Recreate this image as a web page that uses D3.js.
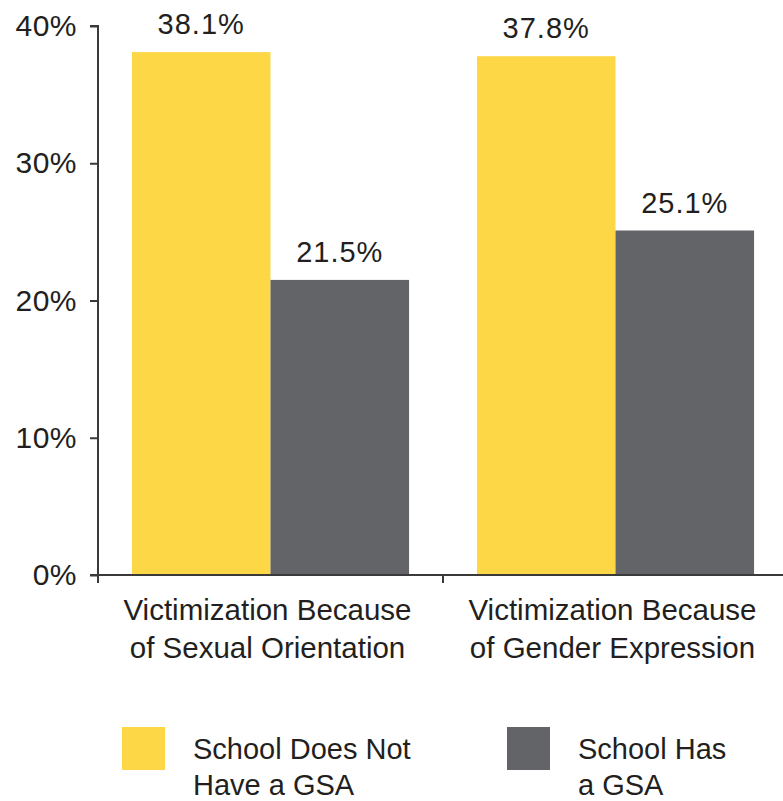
<!DOCTYPE html>
<html>
<head>
<meta charset="utf-8">
<script src="https://cdn.jsdelivr.net/npm/d3@7"></script>
<style>
  body { margin: 0; background: #fff; }
  svg { display: block; font-family: "Liberation Sans", Arial, sans-serif; }
</style>
</head>
<body>
<svg width="783" height="801"></svg>
<script>
// data
const categories = [
  ["Victimization Because", "of Sexual Orientation"],
  ["Victimization Because", "of Gender Expression"]
];
const seriesNames = ["School Does Not Have a GSA", "School Has a GSA"];
const legendLines = [["School Does Not", "Have a GSA"], ["School Has", "a GSA"]];
const noGsa = [38.1, 37.8];
const hasGsa = [21.5, 25.1];
const yTicks = [0, 10, 20, 30, 40];
const colors = ["#fdd745", "#636468"];

const svg = d3.select("svg");
const textColor = "#231f20";

const x0 = d3.scaleBand()
  .domain(d3.range(categories.length))
  .range([98, 788]);

const x1 = d3.scaleBand()
  .domain(seriesNames)
  .range([0, x0.bandwidth()])
  .paddingInner(0)
  .paddingOuter(0.245);

const y = d3.scaleLinear()
  .domain([0, 40])
  .range([575, 26]);

const rows = categories.map((c, i) => ({
  i,
  values: [
    { name: seriesNames[0], value: noGsa[i], color: colors[0] },
    { name: seriesNames[1], value: hasGsa[i], color: colors[1] }
  ]
}));

// bars
const groups = svg.append("g")
  .selectAll("g")
  .data(rows)
  .join("g")
  .attr("transform", d => `translate(${x0(d.i)},0)`);

groups.selectAll("rect")
  .data(d => d.values)
  .join("rect")
  .attr("x", d => x1(d.name))
  .attr("y", d => y(d.value))
  .attr("width", x1.bandwidth())
  .attr("height", d => y(0) - y(d.value))
  .attr("fill", d => d.color);

groups.selectAll("text.val")
  .data(d => d.values)
  .join("text")
  .attr("class", "val")
  .attr("x", d => x1(d.name) + x1.bandwidth() / 2)
  .attr("y", d => y(d.value) - 18)
  .attr("text-anchor", "middle")
  .attr("font-size", 29)
  .attr("letter-spacing", 1)
  .attr("fill", textColor)
  .text(d => d.value.toFixed(1) + "%");

// y axis
const yAxis = svg.append("g")
  .attr("transform", "translate(98,0)")
  .call(d3.axisLeft(y).tickValues(yTicks).tickSize(8).tickPadding(13)
    .tickFormat(d => d + "%"));
yAxis.select(".domain").attr("stroke", "#3a3a3a").attr("stroke-width", 2)
  .attr("d", `M-8,${y(40)}H0V${y(0)}`);
yAxis.selectAll(".tick line").attr("stroke", "#3a3a3a").attr("stroke-width", 2);
yAxis.selectAll(".tick text")
  .attr("font-size", 30)
  .attr("letter-spacing", 0.5)
  .attr("fill", textColor)
  .attr("font-family", "Liberation Sans, Arial, sans-serif");

// x axis
const xAxis = svg.append("g").attr("transform", `translate(0,${y(0)})`);
xAxis.append("line")
  .attr("x1", 90).attr("x2", 783)
  .attr("stroke", "#3a3a3a").attr("stroke-width", 2);
xAxis.selectAll("line.tk")
  .data(d3.range(categories.length))
  .join("line")
  .attr("class", "tk")
  .attr("x1", d => x0(d)).attr("x2", d => x0(d))
  .attr("y1", 0).attr("y2", 8)
  .attr("stroke", "#3a3a3a").attr("stroke-width", 2);

const catLabels = svg.append("g")
  .selectAll("text")
  .data(categories)
  .join("text")
  .attr("x", (d, i) => x0(i) + x0.bandwidth() / 2 - 3)
  .attr("y", 620)
  .attr("text-anchor", "middle")
  .attr("font-size", 29.5)
  .attr("fill", textColor);
catLabels.selectAll("tspan")
  .data(d => d)
  .join("tspan")
  .attr("x", function () { return this.parentNode.getAttribute("x"); })
  .attr("dy", (d, i) => i === 0 ? 0 : 38)
  .text(d => d);

// legend
const legendX = [122, 507];
const legend = svg.append("g")
  .selectAll("g")
  .data(seriesNames)
  .join("g")
  .attr("transform", (d, i) => `translate(${legendX[i]},727)`);

legend.append("rect")
  .attr("width", 43)
  .attr("height", 43)
  .attr("fill", (d, i) => colors[i]);

legend.append("text")
  .attr("font-size", 29)
  .attr("fill", textColor)
  .selectAll("tspan")
  .data((d, i) => legendLines[i])
  .join("tspan")
  .attr("x", 71)
  .attr("y", (d, i) => 32 + i * 36)
  .text(d => d);
</script>
</body>
</html>
